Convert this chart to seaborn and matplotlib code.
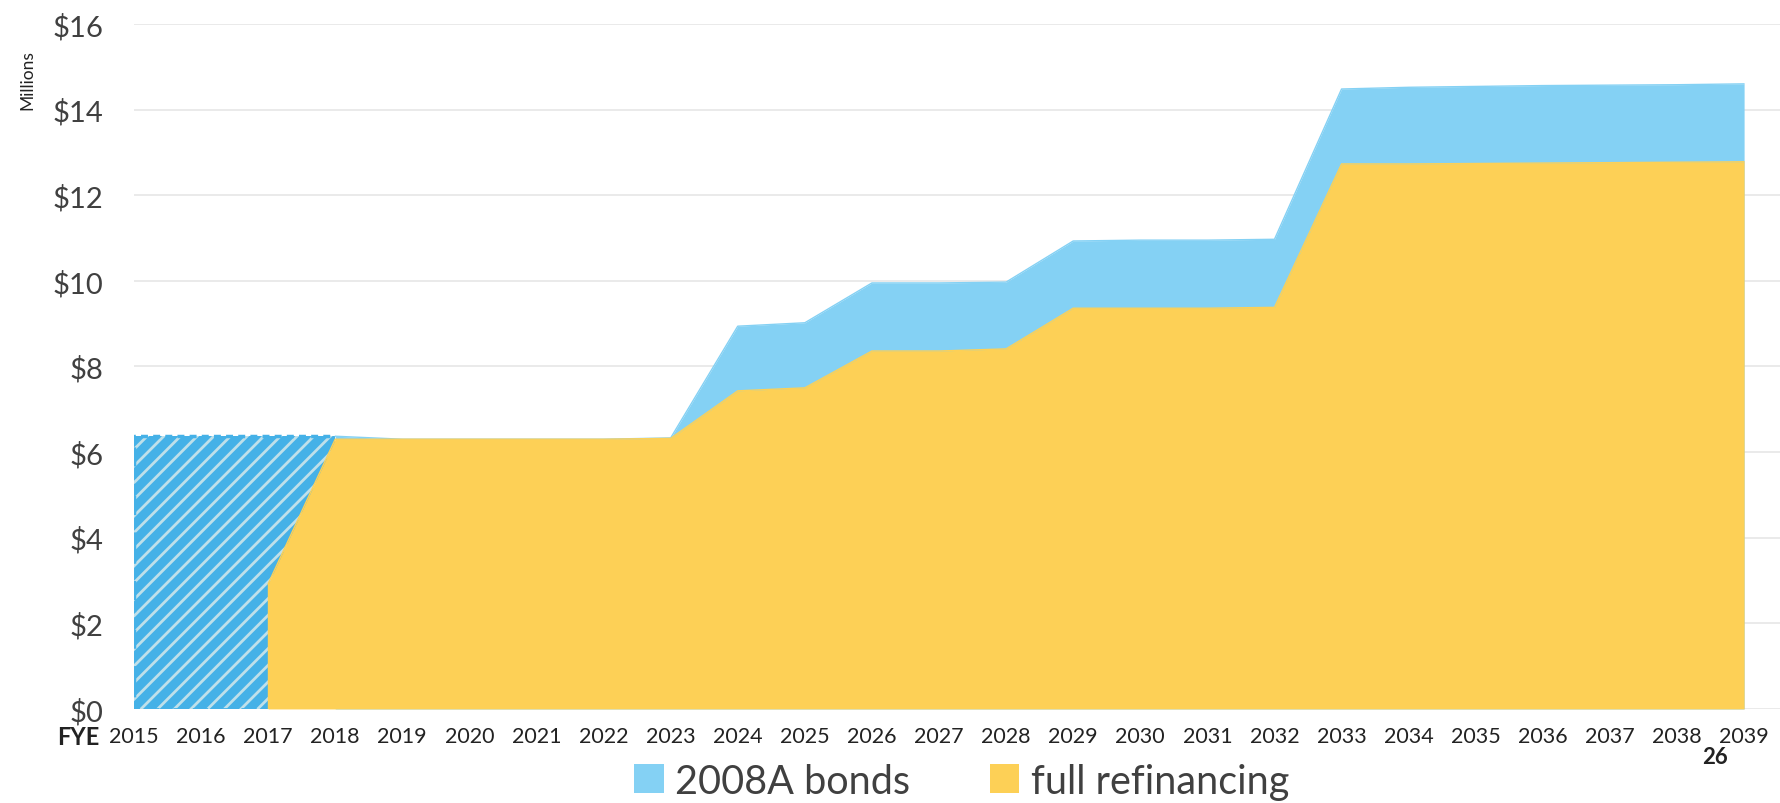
import numpy as np
import pandas as pd
import matplotlib
matplotlib.use("Agg")
import matplotlib.pyplot as plt
from matplotlib.patches import Patch
import seaborn as sns

# data (millions of $)
years = list(range(2015, 2040))
bonds_2008a = [6.37, 6.37, 6.37, 6.37, 6.30, 6.30, 6.30, 6.30, 6.33, 8.94, 9.02, 9.95,
               9.95, 9.97, 10.93, 10.95, 10.95, 10.97, 14.48, 14.52, 14.54, 14.56,
               14.57, 14.58, 14.60]
full_refi = [None, None, 2.92, 6.30, 6.30, 6.30, 6.30, 6.30, 6.32, 7.43, 7.50, 8.36,
             8.36, 8.41, 9.36, 9.36, 9.36, 9.38, 12.73, 12.73, 12.74, 12.75, 12.76,
             12.77, 12.78]
y_ticks = [0, 2, 4, 6, 8, 10, 12, 14, 16]
y_labels = ["$" + str(v) for v in y_ticks]

df = pd.DataFrame({"year": years, "bonds": bonds_2008a, "refi": full_refi})
df["refi"] = df["refi"].astype(float)

sns.set_theme(style="white")
plt.rcParams["font.family"] = ["Lato", "DejaVu Sans"]
plt.rcParams["hatch.linewidth"] = 2.0

blue_light = "#84d1f4"
blue_dark = "#45b1e7"
yellow = "#fdd056"
text_col = "#404040"

fig = plt.figure(figsize=(17.81, 8.04), dpi=100)
ax = fig.add_axes([0.0752, 0.117, 0.9248, 0.852])

# old bonds already paid (hatched part, 2015-2018)
old = df[df["year"] <= 2018]
ax.fill_between(old["year"], 0, old["bonds"], facecolor=blue_dark,
                edgecolor="#bfe0ea", hatch="//", linewidth=0, zorder=2)
ax.plot([2015, 2015, 2018], [0, old["bonds"].iloc[0], old["bonds"].iloc[-1]],
        color=blue_dark, ls=(0, (2, 1.5)), lw=2.5, zorder=2)
ax.plot([2015, 2018], [0, 0], color=blue_dark, ls=(0, (2, 1.5)), lw=2, zorder=2)

# remaining 2008A bonds
new = df[df["year"] >= 2018]
ax.fill_between(new["year"], 0, new["bonds"], color=blue_light, linewidth=0, zorder=2)
sns.lineplot(data=new, x="year", y="bonds", ax=ax, color=blue_light, lw=1, zorder=2)

# full refinancing in front
refi = df.dropna(subset=["refi"])
ax.fill_between(refi["year"], 0, refi["refi"], color=yellow, linewidth=0, zorder=3)
sns.lineplot(data=refi, x="year", y="refi", ax=ax, color=yellow, lw=1, zorder=3)
ax.plot([2017, 2017], [0, refi["refi"].iloc[0]], color=yellow, lw=1, zorder=3)

ax.set_xlim(2015, 2039.55)
ax.set_ylim(0, 16)
ax.set_yticks(y_ticks)
ax.set_yticklabels(y_labels, fontsize=21, color=text_col)
ax.set_xticks(years)
ax.set_xticklabels([str(y) for y in years], fontsize=15.5, color="#222222")
ax.tick_params(axis="y", pad=22, length=0)
ax.tick_params(axis="x", pad=12, length=0)
ax.grid(axis="y", color="#e6e6e6", lw=1.2, zorder=0)
ax.set_axisbelow(True)
for s in ax.spines.values():
    s.set_visible(False)
ax.set_xlabel("")
ax.set_ylabel("")

fig.text(0.011, 0.90, "Millions", rotation=90, fontsize=12.5, color="#222222",
         ha="left", va="center")
fig.text(0.044, 0.083, "FYE", fontsize=17, color="#222222", ha="center",
         va="center", fontweight="bold")
fig.text(0.963, 0.058, "26", fontsize=16, color="#222222", ha="center",
         va="center", fontweight="bold")

handles = [Patch(facecolor=blue_light, edgecolor="none"),
           Patch(facecolor=yellow, edgecolor="none")]
fig.legend(handles, ["2008A bonds", "full refinancing"], loc="center",
           bbox_to_anchor=(0.540, 0.027), ncol=2, frameon=False, fontsize=28.5,
           handlelength=0.75, handleheight=0.75, handletextpad=0.3,
           columnspacing=2.0, labelcolor=text_col)

fig.savefig("out.png", dpi=100, facecolor="white")
